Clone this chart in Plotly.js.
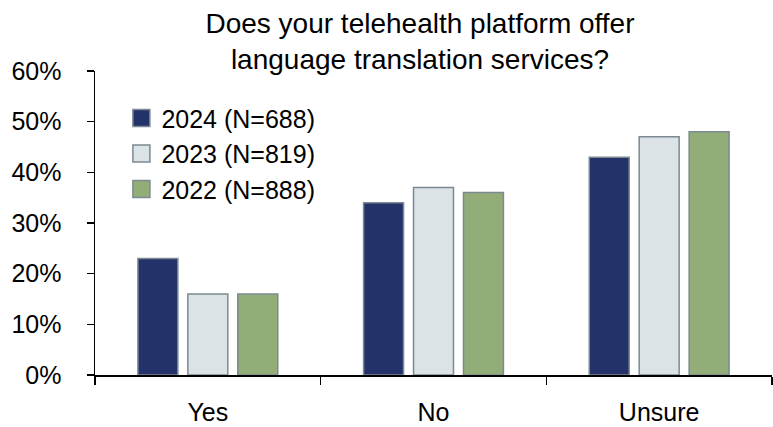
<!DOCTYPE html>
<html><head><meta charset="utf-8">
<script src="https://cdn.plot.ly/plotly-3.0.1.min.js"></script>
<style>html,body{margin:0;padding:0;background:#fff}#chart{width:773px;height:427px}</style>
</head><body><div id="chart"></div>
<script>
const categories = ["Yes", "No", "Unsure"];
const seriesNames = ["2024 (N=688)", "2023 (N=819)", "2022 (N=888)"];
const values2024 = [23, 34, 43];
const values2023 = [16, 37, 47];
const values2022 = [16, 36, 48];
const colors = ["#233369", "#dce3e6", "#92ad78"];
const allValues = [values2024, values2023, values2022];

const traces = allValues.map((v, i) => ({
  type: "bar", name: seriesNames[i], x: categories, y: v.map(d => d / 100),
  marker: {color: colors[i], line: {color: "#7b8a92", width: 1.5}},
  hoverinfo: "skip"
}));

const font = "Liberation Sans, Arial, sans-serif";
Plotly.newPlot("chart", traces, {
  width: 773, height: 427,
  margin: {l: 95, r: 1, t: 71, b: 52},
  paper_bgcolor: "#fff", plot_bgcolor: "#fff",
  font: {family: font, color: "#000", size: 25},
  title: {text: "Does your telehealth platform offer<br>language translation services?", x: 420/773, xanchor: "center", xref: "container", yref: "container", y: 1 - 33/427, yanchor: "bottom", font: {size: 28, family: font, color: "#000"}},
  barmode: "group", bargap: 0.336, bargroupgap: 0.2,
  xaxis: {showline: true, linecolor: "#000", linewidth: 2, ticks: "outside", tickson: "boundaries", ticklen: 8, tickcolor: "#000", tickwidth: 1.5, showgrid: false, tickfont: {size: 25}, ticklabelstandoff: 14, fixedrange: true},
  yaxis: {range: [0, 0.6], dtick: 0.1, tickformat: ".0%", showline: true, linecolor: "#000", linewidth: 1.5, ticks: "outside", ticklen: 7, tickcolor: "#000", tickwidth: 1.5, showgrid: false, zeroline: false, tickfont: {size: 25}, ticklabelstandoff: 20},
  legend: {x: 0.039, y: 0.92, xanchor: "left", yanchor: "top", font: {size: 25}, itemwidth: 30, tracegroupgap: 0, bgcolor: "rgba(0,0,0,0)"},
  showlegend: true
}, {displayModeBar: false, staticPlot: true}).then(gd => {
  gd.querySelectorAll(".legendpoints path").forEach(p => {
    p.setAttribute("d", "M8.5,8.5H-8.5V-8.5H8.5Z");
    p.style.strokeWidth = "1.5px";
  });
});
</script></body></html>
